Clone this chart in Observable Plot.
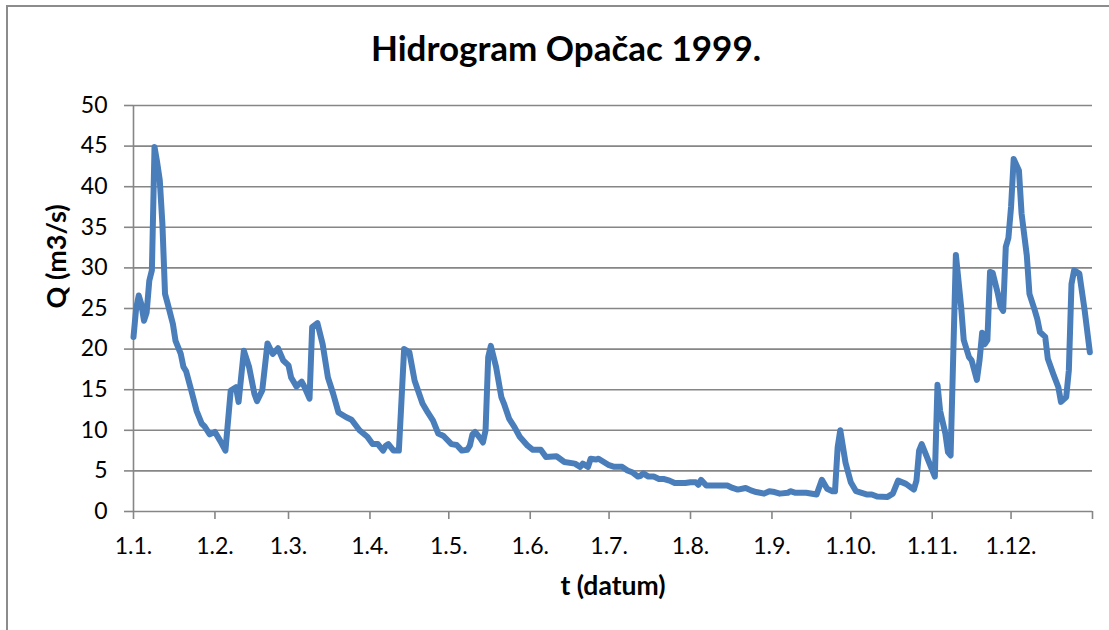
<!DOCTYPE html>
<html>
<head>
<meta charset="utf-8">
<script src="https://cdn.jsdelivr.net/npm/d3@7"></script>
<script src="https://cdn.jsdelivr.net/npm/@observablehq/plot@0.6"></script>
<style>
  html, body { margin: 0; padding: 0; background: #fff; overflow: hidden; }
  body { width: 1109px; height: 630px; position: relative; font-family: Lato, "Open Sans", sans-serif; }
  #frame { position: absolute; left: 6px; top: 5px; width: 1300px; height: 800px;
           border-left: 2px solid #8c8c8c; border-top: 2px solid #8c8c8c; }
  #title { position: absolute; top: 26px; left: 566px; transform: translateX(-50%);
           font-weight: bold; font-size: 35px; line-height: 1.2; white-space: nowrap; color: #000; }
  #chart { position: absolute; left: 0; top: 80px; }
</style>
</head>
<body>
<div id="frame"></div>
<div id="title">Hidrogram Opačac 1999.</div>
<div id="chart"></div>
<script>
// Day offsets from 1 January 1999 and discharge Q (m3/s)
const dayOffsets = [
  0,1,2,3,4,5,6,7,8,9,10,11,12,13,15,16,18,19,20,22,24,26,27,29,31,33,35,37,39,40,
  42,44,46,47,49,51,53,55,57,59,60,62,64,65,67,68,70,72,74,76,78,81,83,86,89,91,93,95,96,97,
  99,101,102,103,105,107,110,112,114,116,118,121,123,125,127,128,129,130,132,133,134,135,136,138,140,141,143,145,147,150,
  152,155,157,161,164,168,170,171,173,174,176,177,179,181,183,186,188,190,192,193,194,196,198,200,202,204,206,210,212,214,
  215,216,218,221,226,228,230,233,235,237,240,242,244,246,249,250,252,256,260,262,264,266,267,268,269,271,273,275,279,281,
  283,287,289,291,294,297,298,299,300,303,305,306,307,309,310,311,313,315,316,318,319,321,322,323,324,325,326,327,329,330,
  331,332,333,334,335,337,338,340,341,343,344,345,347,348,350,352,353,355,356,357,358,360,362,364
];
const flowValues = [
  21.5,25.0,26.6,25.5,23.5,24.5,28.4,29.7,44.9,43.0,40.8,35.4,26.8,25.6,23.1,21.0,19.4,17.8,17.3,14.9,12.4,10.8,10.5,9.5,9.8,8.7,7.5,14.9,15.3,13.5,
  19.8,17.8,14.5,13.6,14.9,20.7,19.4,20.1,18.6,18.0,16.5,15.4,16.0,15.4,13.9,22.7,23.2,20.6,16.5,14.5,12.2,11.6,11.3,10.0,9.2,8.3,8.3,7.5,8.1,8.3,
  7.5,7.5,13.7,20.0,19.6,16.1,13.3,12.2,11.2,9.6,9.3,8.3,8.2,7.5,7.6,8.1,9.5,9.8,9.0,8.5,10.0,19.0,20.4,17.8,14.1,13.3,11.4,10.4,9.2,8.1,
  7.6,7.6,6.7,6.8,6.1,5.9,5.5,5.9,5.5,6.5,6.4,6.5,6.1,5.7,5.5,5.5,5.05,4.8,4.3,4.4,4.7,4.3,4.3,4.0,4.0,3.8,3.5,3.5,3.6,3.6,
  3.3,3.9,3.2,3.2,3.2,2.9,2.7,2.9,2.6,2.4,2.2,2.5,2.4,2.2,2.3,2.5,2.3,2.3,2.1,3.9,2.8,2.5,2.5,7.9,10.0,6.0,3.6,2.5,2.1,2.1,
  1.85,1.8,2.2,3.8,3.4,2.7,3.8,7.5,8.3,5.9,4.3,15.6,12.4,9.6,7.3,6.9,31.6,25.2,21.1,19.0,18.6,16.2,18.6,22.0,20.6,21.1,29.5,29.4,26.8,25.2,
  24.7,32.6,33.7,37.5,43.4,42.0,36.7,31.5,26.8,24.8,23.7,22.1,21.5,18.8,17.0,15.3,13.5,14.1,17.4,28.0,29.7,29.3,24.8,19.6
];
const monthLabels = ["1.1.","1.2.","1.3.","1.4.","1.5.","1.6.","1.7.","1.8.","1.9.","1.10.","1.11.","1.12.",""];
const yTicks = [0,5,10,15,20,25,30,35,40,45,50];

const start = new Date(Date.UTC(1999, 0, 1));
const end = new Date(Date.UTC(2000, 0, 1));
const data = dayOffsets.map((d, i) => ({date: d3.utcDay.offset(start, d), q: flowValues[i]}));
const tickDates = monthLabels.map((_, i) => new Date(Date.UTC(1999, i, 1)));
const labelOf = new Map(tickDates.map((d, i) => [+d, monthLabels[i]]));

const gray = "#868686";
const plot = Plot.plot({
  width: 1109, height: 550,
  marginLeft: 133, marginRight: 17, marginTop: 25, marginBottom: 119,
  style: {fontFamily: "Lato, 'Open Sans', sans-serif", fontSize: "23px", color: "#000", background: "transparent", overflow: "visible"},
  x: {type: "utc", domain: [start, end]},
  y: {domain: [0, 50]},
  marks: [
    Plot.ruleY(yTicks.filter(v => v > 0), {stroke: gray, strokeWidth: 1.6}),
    Plot.axisY({ticks: yTicks, tickSize: 9, tickPadding: 17, stroke: gray, strokeWidth: 1.6, fill: "#000", label: null, fontSize: 23}),
    Plot.axisX({ticks: tickDates, tickSize: 8, tickPadding: 18, stroke: gray, strokeWidth: 1.6, fill: "#000", label: null, fontSize: 23,
                tickFormat: d => labelOf.get(+d) ?? ""}),
    Plot.ruleY([0], {stroke: gray, strokeWidth: 1.6}),
    Plot.ruleX([start], {stroke: gray, strokeWidth: 1.6}),
    Plot.line(data, {x: "date", y: "q", stroke: "#4a7ebb", strokeWidth: 6, strokeLinejoin: "round", strokeLinecap: "round"}),
    Plot.text(["Q (m3/s)"], {text: d => d, frameAnchor: "left", dx: -76, rotate: -90, fontWeight: "bold", fontSize: 27, fill: "#000"}),
    Plot.text(["t (datum)"], {text: d => d, frameAnchor: "bottom", dy: 83, fontWeight: "bold", fontSize: 26.5, fill: "#000"})
  ]
});
document.getElementById("chart").appendChild(plot);
</script>
</body>
</html>
